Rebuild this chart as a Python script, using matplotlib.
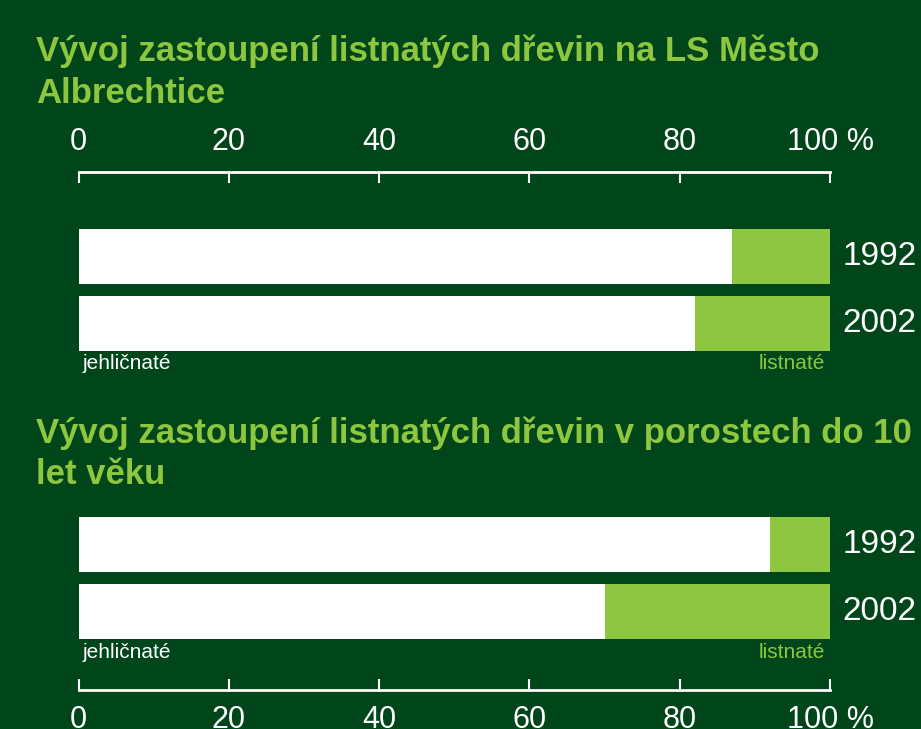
import matplotlib.pyplot as plt

# data
years = ["1992", "2002"]
jehlicnate_ls = [87, 82]       # LS Město Albrechtice
jehlicnate_mlade = [92, 70]    # porosty do 10 let věku
ticks = [0, 20, 40, 60, 80, 100]
tick_labels = ["0", "20", "40", "60", "80", "100 %"]

BG = "#00461a"
GREEN = "#8dc63f"
W, H = 921, 729

plt.rcParams['font.family'] = ['Liberation Sans', 'DejaVu Sans']

fig = plt.figure(figsize=(W / 100, H / 100), dpi=100, facecolor=BG)


def px_axes(x0, y0, x1, y1):
    # pixel box (top-left origin) -> figure axes
    return fig.add_axes([x0 / W, 1 - y1 / H, (x1 - x0) / W, (y1 - y0) / H])


def panel(ax, vals, ylim, axis_top):
    ax.set_facecolor(BG)
    pos = list(range(len(years)))
    listnate = [100 - v for v in vals]
    ax.barh(pos, vals, height=0.82, color="white", edgecolor="none")
    ax.barh(pos, listnate, left=vals, height=0.82, color=GREEN, edgecolor="none")
    ax.set_xlim(0, 100)
    ax.set_ylim(ylim)
    for p, y in zip(pos, years):
        ax.text(101.7, p, y, color="white", fontsize=24, va="center", ha="left", clip_on=False)
    ax.text(0.5, 1.6, "jehličnaté", color="white", fontsize=15, va="center", ha="left")
    ax.text(99.3, 1.6, "listnaté", color=GREEN, fontsize=15, va="center", ha="right")
    for s in ax.spines.values():
        s.set_visible(False)
    side = "top" if axis_top else "bottom"
    ax.spines[side].set_visible(True)
    ax.spines[side].set_color("white")
    ax.spines[side].set_linewidth(2)
    ax.set_yticks([])
    ax.set_xticks(ticks)
    ax.set_xticklabels(tick_labels)
    ax.tick_params(axis="x", direction="in", length=8, width=1.5, color="white",
                   labelcolor="white", labelsize=22, pad=11,
                   top=axis_top, labeltop=axis_top,
                   bottom=not axis_top, labelbottom=not axis_top)


ax1 = px_axes(78.7, 172, 830, 351)
panel(ax1, jehlicnate_ls, (1.41, -1.254), True)

ax2 = px_axes(78.7, 517, 830, 690)
panel(ax2, jehlicnate_mlade, (2.164, -0.41), False)

title_kw = dict(color=GREEN, fontsize=25, fontweight="bold", ha="left", va="baseline")
fig.text(36 / W, 1 - 61 / H, "Vývoj zastoupení listnatých dřevin na LS Město", **title_kw)
fig.text(36 / W, 1 - 103 / H, "Albrechtice", **title_kw)
fig.text(36 / W, 1 - 443 / H, "Vývoj zastoupení listnatých dřevin v porostech do 10", **title_kw)
fig.text(36 / W, 1 - 484 / H, "let věku", **title_kw)

fig.savefig("out.png", dpi=100, facecolor=BG)
